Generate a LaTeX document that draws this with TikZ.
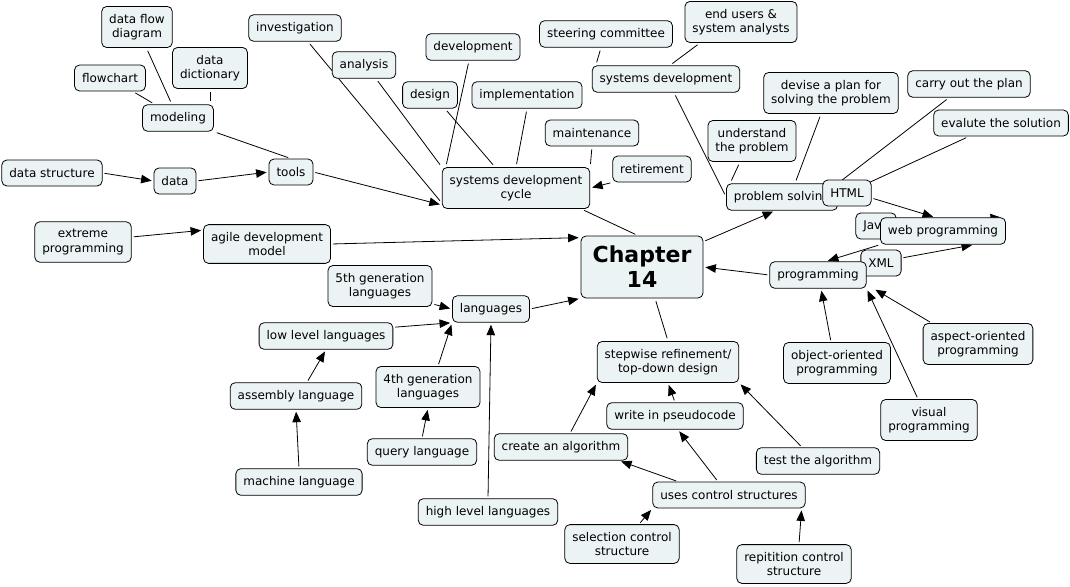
\documentclass[tikz,border=0pt]{standalone}
\usepackage{fontspec}
\setmainfont{DejaVu Sans}
\usetikzlibrary{arrows.meta,backgrounds}
\definecolor{cmapfill}{RGB}{236,243,245}
\tikzset{
    concept/.style={rectangle, rounded corners=5pt, draw=black, line width=0.8pt,
        fill=cmapfill, inner xsep=7.5pt, inner ysep=7.5pt, minimum height=26pt, align=center,
        font=\fontsize{12}{14.5}\selectfont},
    chapbox/.style={concept, minimum width=122pt, minimum height=62pt,
        font=\bfseries\fontsize{22}{25}\selectfont},
    arrow/.style={-{Triangle[length=10.5pt,width=8.5pt]}, shorten >=2pt, shorten <=2pt, line width=0.8pt},
    link/.style={shorten >=3pt, shorten <=3pt, line width=0.8pt}
}
\begin{document}
\begin{tikzpicture}[x=1pt, y=-1pt]
    \useasboundingbox (0,0) rectangle (1070,586);
    \node[concept] (dfd) at (137,27) {data flow\\diagram};
    \node[concept] (flowchart) at (110,78) {flowchart};
    \node[concept] (ddict) at (210,68) {data\\dictionary};
    \node[concept] (modeling) at (178,118) {modeling};
    \node[concept] (invest) at (295,28) {investigation};
    \node[concept] (analysis) at (364,65) {analysis};
    \node[concept] (devel) at (473,47) {development};
    \node[concept] (design) at (430,95) {design};
    \node[concept] (implem) at (527,95) {implementation};
    \node[concept] (sdc) at (516,188) {systems development\\cycle};
    \node[concept] (dstruct) at (52,173) {data structure};
    \node[concept] (data) at (175,181) {data};
    \node[concept] (tools) at (291,172) {tools};
    \node[concept] (xp) at (83,242) {extreme\\programming};
    \node[concept] (agile) at (267,244) {agile development\\model};
    \node[concept] (gen5) at (380,286) {5th generation\\languages};
    \node[concept] (steer) at (606,34) {steering committee};
    \node[concept] (endusers) at (741,22) {end users \&\\system analysts};
    \node[concept] (sysdev) at (666,79) {systems development};
    \node[concept] (maint) at (592,133) {maintenance};
    \node[concept] (retire) at (652,169) {retirement};
    \node[concept] (devise) at (831,93) {devise a plan for\\solving the problem};
    \node[concept] (carry) at (969,84) {carry out the plan};
    \node[concept] (evalute) at (1001,123) {evalute the solution};
    \node[concept] (under) at (752,141) {understand\\the problem};
    \node[concept] (probsolv) at (782,197) {problem solving};
    \node[concept] (html) at (847,193) {HTML};
    \node[concept] (java) at (876,226) {Java};
    \node[concept] (webprog) at (943,231) {web programming};
    \node[concept] (xml) at (881,263) {XML};
    \node[concept] (prog) at (818,275) {programming};
    \node[chapbox] (chap) at (642,267) {Chapter\\14};
    \node[concept] (lang) at (491,309) {languages};
    \node[concept] (lowlev) at (326,336) {low level languages};
    \node[concept] (assembly) at (296,396) {assembly language};
    \node[concept] (gen4) at (428,387) {4th generation\\languages};
    \node[concept] (query) at (422,452) {query language};
    \node[concept] (machine) at (299,482) {machine language};
    \node[concept] (highlev) at (488,512) {high level languages};
    \node[concept] (create) at (561,447) {create an algorithm};
    \node[concept] (stepwise) at (668,362) {stepwise refinement/\\top-down design};
    \node[concept] (write) at (675,416) {write in pseudocode};
    \node[concept] (test) at (818,461) {test the algorithm};
    \node[concept] (uses) at (729,495) {uses control structures};
    \node[concept] (selection) at (622,544) {selection control\\structure};
    \node[concept] (repit) at (794,564) {repitition control\\structure};
    \node[concept] (oop) at (837,363) {object-oriented\\programming};
    \node[concept] (aop) at (978,344) {aspect-oriented\\programming};
    \node[concept] (visual) at (929,420) {visual\\programming};
    \begin{scope}[on background layer]
    \fill[white] (0,0) rectangle (1070,586);
    \path (dstruct.east) edge [arrow] (data.west)
        (data.east) edge [arrow] (tools.west)
        (tools.east) edge [arrow] ([yshift=4pt]sdc.south west)
        (dfd) edge [link] (modeling)
        (flowchart) edge [link] (modeling)
        (ddict.south) edge [link] (ddict.south |- modeling.north)
        (modeling.south east) edge [link] (tools.north)
        ([xshift=13pt]invest.south) edge [link] ([yshift=6pt]sdc.south west)
        ([xshift=12pt]analysis.south) edge [link] (sdc.north west)
        ([xshift=-4pt]devel.south) edge [link] ([xshift=4pt]sdc.north west)
        ([xshift=15pt]design.south) edge [link] ([xshift=-21pt]sdc.north)
        (implem.south) edge [link] (sdc.north)
        (maint.south) edge [link] (sdc.north east)
        (retire.south west) edge [arrow] (sdc.east)
        ([xshift=-9pt]sdc.south east) edge [link] ([xshift=-4pt]chap.north)
        ([xshift=-5pt]steer.south) edge [link] ([xshift=4pt]sysdev.north west)
        ([xshift=-41pt]endusers.south) edge [link] ([xshift=4pt]sysdev.north)
        ([xshift=8pt]sysdev.south) edge [link] (probsolv.west)
        ([xshift=-12pt]under.south) edge [link] ([xshift=4pt]probsolv.north west)
        ([xshift=-10pt]devise.south) edge [link] ([xshift=13pt]probsolv.north)
        ([xshift=-20pt]carry.south) edge [link] (probsolv.north east)
        ([xshift=-32pt]evalute.south) edge [link] (probsolv.east)
        ([yshift=-6pt]chap.north east) edge [arrow] ([xshift=-7pt]probsolv.south)
        ([yshift=-5pt]html.east) edge [arrow] ([xshift=-8pt]webprog.north)
        (java) edge [arrow] ([xshift=-3pt]webprog.north east)
        (webprog.south west) edge [arrow] ([xshift=8pt]prog.north)
        ([yshift=5pt]xml.east) edge [arrow] ([xshift=31pt]webprog.south)
        (prog.west) edge [arrow] (chap.east)
        ([yshift=5pt]xp.east) edge [arrow] ([yshift=-6pt]agile.north west)
        (agile.east) edge [arrow] ([yshift=-2pt]chap.north west)
        (lang.east) edge [arrow] (chap.south west)
        ([yshift=3pt]gen5.south east) edge [arrow] (lang.west)
        ([yshift=-5pt]lowlev.north east) edge [arrow] (lang.south west)
        ([xshift=10pt]gen4.north) edge [arrow] (lang.south west)
        (highlev.north) edge [arrow] (lang.south)
        ([xshift=11pt]assembly.north) edge [arrow] (lowlev.south)
        (machine.north) edge [arrow] (assembly.south)
        (query.north) edge [arrow] (gen4.south)
        (stepwise.north) edge [link] ([xshift=13pt]chap.south)
        ([xshift=9pt]create.north) edge [arrow] (stepwise.south west)
        (write.north) edge [arrow] (stepwise.south)
        ([xshift=-16pt]test.north) edge [arrow] (stepwise.south east)
        ([xshift=-51pt]uses.north) edge [arrow] ([xshift=-9pt]create.south east)
        ([xshift=-11pt]uses.north) edge [arrow] ([xshift=3pt]write.south)
        ([xshift=17pt]selection.north) edge [arrow] (uses.south west)
        ([xshift=5pt]repit.north) edge [arrow] ([xshift=-4pt]uses.south east)
        ([xshift=-6pt]oop.north) edge [arrow] ([xshift=3pt]prog.south)
        ([xshift=-11pt]visual.north) edge [arrow] (prog.south east)
        ([xshift=9pt]aop.north west) edge [arrow] ([xshift=7pt]prog.south east);
    \end{scope}
\end{tikzpicture}
\end{document}
